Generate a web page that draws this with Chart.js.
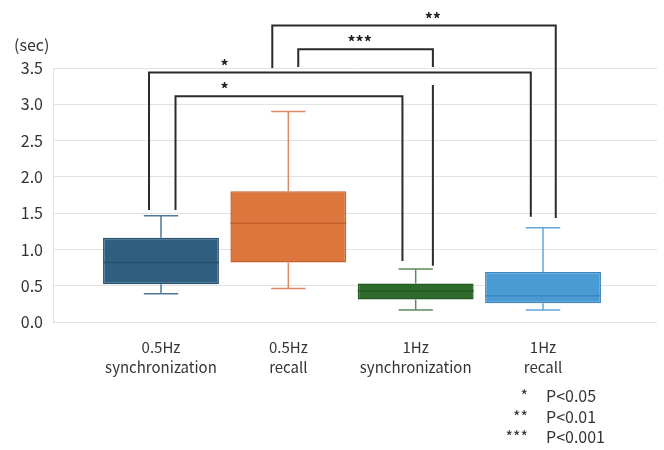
<!DOCTYPE html>
<html>
<head>
<meta charset="utf-8">
<script src="https://cdn.jsdelivr.net/npm/chart.js@4/dist/chart.umd.min.js"></script>
<style>
  html, body { margin: 0; padding: 0; background: #fff; }
</style>
</head>
<body>
<canvas id="boxChart" width="664" height="450"></canvas>
<script>
// categories and box-plot values (sec)
const categories = [['0.5Hz', 'synchronization'], ['0.5Hz', 'recall'], ['1Hz', 'synchronization'], ['1Hz', 'recall']];
const whiskerLow  = [0.39, 0.46, 0.165, 0.165];
const q1          = [0.52, 0.82, 0.31, 0.26];
const median      = [0.82, 1.36, 0.43, 0.36];
const q3          = [1.16, 1.80, 0.53, 0.69];
const whiskerHigh = [1.465, 2.90, 0.73, 1.30];
const yTicks = [0, 0.5, 1.0, 1.5, 2.0, 2.5, 3.0, 3.5];

// significance brackets (x in category position, y in sec)
const brackets = [
  { label: '**',  from: 1.874, to: 4.10,  top: 4.085, leftEnd: 3.50,  rightEnd: 1.433, labelX: 3.135 },
  { label: '***', from: 2.078, to: 3.135, top: 3.758, leftEnd: 3.514, rightEnd: 0.776, labelX: 2.56, gap: [3.266, 3.514] },
  { label: '*',   from: 0.906, to: 3.904, top: 3.438, leftEnd: 1.543, rightEnd: 1.451, labelX: 1.50 },
  { label: '*',   from: 1.114, to: 2.896, top: 3.11,  leftEnd: 1.543, rightEnd: 0.84,  labelX: 1.50 }
];
const pLegend = [['*', 'P<0.05'], ['**', 'P<0.01'], ['***', 'P<0.001']];

const fillColors    = ['#2E5E80', '#DD763D', '#2D6A2B', '#4A9BD4'];
const borderColors  = ['#25506E', '#C4622D', '#235A21', '#3C86BE'];
const whiskerColors = ['#4F7898', '#DB8A66', '#5F8B5F', '#64A6D8'];
const FONT = '"Noto Sans CJK JP", "Noto Sans", sans-serif';

const boxExtras = {
  id: 'boxExtras',
  afterDatasetsDraw(chart) {
    const { ctx, scales: { x, y } } = chart;
    categories.forEach((c, i) => {
      const cx = x.getPixelForValue(i + 1);
      const capL = x.getPixelForValue(i + 1 - 0.135);
      const capR = x.getPixelForValue(i + 1 + 0.135);
      ctx.save();
      ctx.strokeStyle = whiskerColors[i];
      ctx.lineWidth = 1.5;
      ctx.beginPath();
      // upper whisker
      ctx.moveTo(cx, y.getPixelForValue(q3[i]));
      ctx.lineTo(cx, y.getPixelForValue(whiskerHigh[i]));
      ctx.moveTo(capL, y.getPixelForValue(whiskerHigh[i]));
      ctx.lineTo(capR, y.getPixelForValue(whiskerHigh[i]));
      // lower whisker
      ctx.moveTo(cx, y.getPixelForValue(q1[i]));
      ctx.lineTo(cx, y.getPixelForValue(whiskerLow[i]));
      ctx.moveTo(capL, y.getPixelForValue(whiskerLow[i]));
      ctx.lineTo(capR, y.getPixelForValue(whiskerLow[i]));
      ctx.stroke();
      // median
      const bar = chart.getDatasetMeta(0).data[i];
      ctx.strokeStyle = borderColors[i];
      ctx.beginPath();
      ctx.moveTo(bar.x - bar.width / 2, y.getPixelForValue(median[i]));
      ctx.lineTo(bar.x + bar.width / 2, y.getPixelForValue(median[i]));
      ctx.stroke();
      ctx.restore();
    });
  },
  afterDraw(chart) {
    const { ctx, scales: { x, y } } = chart;
    ctx.save();
    // brackets
    ctx.strokeStyle = '#2b2b2b';
    ctx.lineWidth = 2;
    brackets.forEach(b => {
      const x1 = x.getPixelForValue(b.from), x2 = x.getPixelForValue(b.to);
      const yt = y.getPixelForValue(b.top);
      ctx.beginPath();
      ctx.moveTo(x1, y.getPixelForValue(b.leftEnd));
      ctx.lineTo(x1, yt);
      ctx.lineTo(x2, yt);
      if (b.gap) {
        ctx.lineTo(x2, y.getPixelForValue(b.gap[1]));
        ctx.moveTo(x2, y.getPixelForValue(b.gap[0]));
      }
      ctx.lineTo(x2, y.getPixelForValue(b.rightEnd));
      ctx.stroke();
      ctx.fillStyle = '#222';
      ctx.font = 'bold 16px ' + FONT;
      ctx.textAlign = 'center';
      ctx.textBaseline = 'middle';
      ctx.fillText(b.label, x.getPixelForValue(b.labelX), yt - 7);
    });
    // unit label
    ctx.fillStyle = '#333';
    ctx.font = '16px ' + FONT;
    ctx.textAlign = 'left';
    ctx.textBaseline = 'middle';
    ctx.fillText('(sec)', 14, 45);
    // p-value legend
    pLegend.forEach((p, i) => {
      const ly = 396 + i * 20.7;
      ctx.textAlign = 'right';
      ctx.fillText(p[0], 528, ly);
      ctx.textAlign = 'left';
      ctx.fillText(p[1], 546, ly);
    });
    ctx.restore();
  }
};

new Chart(document.getElementById('boxChart'), {
  type: 'bar',
  data: {
    datasets: [{
      data: categories.map((c, i) => ({ x: i + 1, y: [q1[i], q3[i]] })),
      backgroundColor: fillColors,
      borderColor: borderColors,
      borderWidth: 1.5,
      borderSkipped: false,
      barPercentage: 0.91,
      categoryPercentage: 1.0
    }]
  },
  options: {
    responsive: false,
    animation: false,
    devicePixelRatio: 1,
    layout: { padding: { top: 68, left: 0, right: 7, bottom: 0 } },
    plugins: { legend: { display: false }, tooltip: { enabled: false } },
    scales: {
      x: {
        type: 'linear',
        offset: false,
        min: 0.152,
        max: 4.895,
        afterBuildTicks: scale => { scale.ticks = categories.map((c, i) => ({ value: i + 1 })); },
        afterFit: scale => { scale.height = 128; },
        grid: { display: false, drawTicks: false },
        border: { display: false },
        ticks: {
          autoSkip: false,
          maxRotation: 0,
          padding: 15,
          color: '#333',
          font: { family: FONT, size: 15, lineHeight: '20px' },
          callback: v => categories[Math.round(v) - 1]
        }
      },
      y: {
        min: 0,
        max: 3.5,
        afterBuildTicks: scale => { scale.ticks = yTicks.map(v => ({ value: v })); },
        afterFit: scale => { scale.width = 53; },
        grid: { color: '#E2E2E2', lineWidth: 1, drawTicks: false },
        border: { display: true, color: '#E2E2E2' },
        ticks: {
          padding: 10,
          color: '#333',
          font: { family: FONT, size: 16 },
          callback: v => v.toFixed(1)
        }
      }
    }
  },
  plugins: [boxExtras]
});
</script>
</body>
</html>
